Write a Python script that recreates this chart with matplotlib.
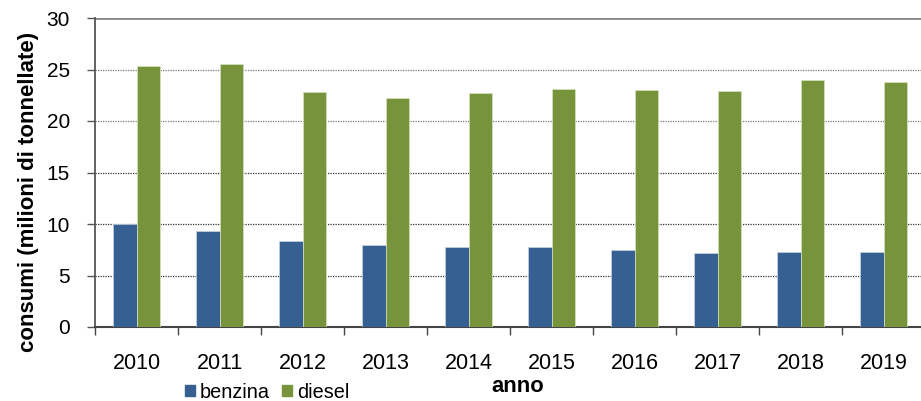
import numpy as np
import matplotlib
matplotlib.use('Agg')
import matplotlib.pyplot as plt
from matplotlib.patches import Patch

plt.rcParams['font.family'] = ['Liberation Sans', 'DejaVu Sans']

anni = ['2010', '2011', '2012', '2013', '2014', '2015', '2016', '2017', '2018', '2019']
benzina = [10.0, 9.3, 8.35, 7.95, 7.8, 7.75, 7.5, 7.2, 7.25, 7.25]
diesel = [25.3, 25.5, 22.8, 22.25, 22.7, 23.1, 23.05, 22.95, 24.0, 23.75]
y_ticks = [0, 5, 10, 15, 20, 25, 30]

col_benzina = '#366092'
col_diesel = '#77933C'

fig = plt.figure(figsize=(9.21, 4.01), dpi=100)
# axes cropped slightly at the right edge, as in the reference
ax = fig.add_axes([95 / 921, 1 - 327 / 401, 830 / 921, 309 / 401])

x = np.arange(len(anni))
w = 0.285
ax.bar(x - w / 2, benzina, w, color=col_benzina, edgecolor='#c8d3e3', linewidth=0.5, zorder=3)
ax.bar(x + w / 2, diesel, w, color=col_diesel, edgecolor='#d6e3bf', linewidth=0.5, zorder=3)

ax.set_xlim(-0.5, len(anni) - 0.5)
ax.set_ylim(0, 30)
ax.set_yticks(y_ticks)
ax.set_yticklabels([str(v) for v in y_ticks], fontsize=15)
ax.set_xticks(x)
ax.set_xticklabels(anni, fontsize=15.5)
ax.tick_params(axis='x', length=0, pad=19)
ax.tick_params(axis='y', length=6, width=1, color='#555555', pad=12)
# category boundary ticks
ax.set_xticks(np.arange(-0.5, len(anni), 1.0), minor=True)
ax.tick_params(axis='x', which='minor', length=6, width=1, color='#444444')

for v in y_ticks[1:-1]:
    c = '#777777' if v >= 20 else '#333333'
    ax.axhline(v, color=c, linestyle=(0, (1, 1)), linewidth=0.9, zorder=1)
ax.axhline(30, color='#888888', linewidth=2, zorder=1)

for s in ['top', 'right']:
    ax.spines[s].set_visible(False)
ax.spines['left'].set_color('#555555')
ax.spines['left'].set_linewidth(1.3)
ax.spines['bottom'].set_color('#444444')
ax.spines['bottom'].set_linewidth(1.5)

fig.text(28.5 / 921, 1 - 192 / 401, 'consumi (milioni di tonnellate)', rotation=90,
         ha='center', va='center', fontsize=16, fontweight='bold')
fig.text(518 / 921, 1 - 386 / 401, 'anno', ha='center', va='center',
         fontsize=15.8, fontweight='bold')

handles = [Patch(color=col_benzina, label='benzina'), Patch(color=col_diesel, label='diesel')]
fig.legend(handles=handles, loc='center left', bbox_to_anchor=(185 / 921, 1 - 392 / 401),
           ncol=2, frameon=False, fontsize=14.3, handlelength=0.5, handleheight=0.5,
           handletextpad=0.25, columnspacing=0.6, borderpad=0, borderaxespad=0)

fig.savefig('out.png', dpi=100)
